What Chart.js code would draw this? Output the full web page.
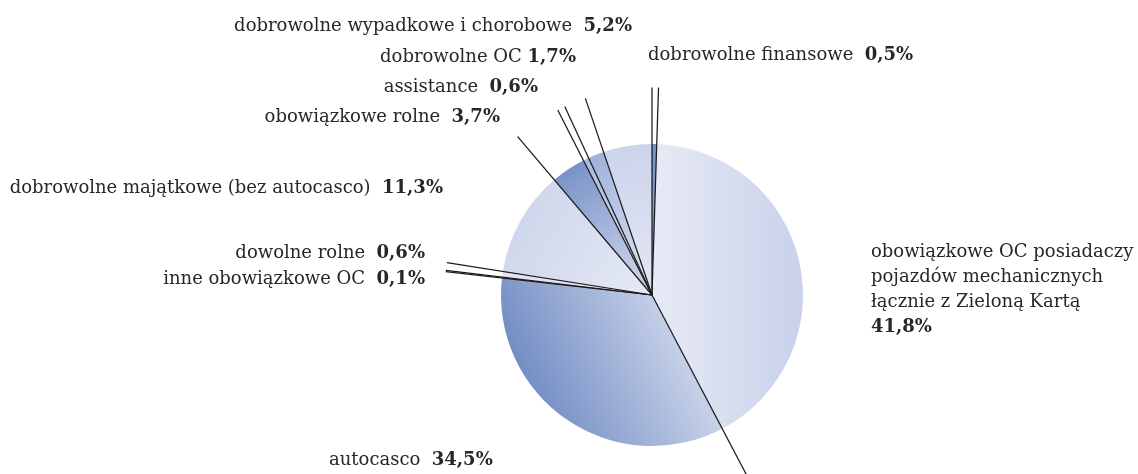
<!DOCTYPE html>
<html lang="pl">
<head>
  <meta charset="UTF-8">
  <title>Struktura składki - ubezpieczenia majątkowe</title>
  <script src="https://cdn.jsdelivr.net/npm/chart.js"></script>
  <style>
    html, body { margin: 0; padding: 0; background: #ffffff; }
    #wrap { width: 1138px; height: 474px; position: relative; }
  </style>
</head>
<body>
  <div id="wrap"><canvas id="wykres"></canvas></div>

  <script>
    // dane - udziały w składce (%)
    const categories = [
      ['dobrowolne finansowe'],
      ['obowiązkowe OC posiadaczy', 'pojazdów mechanicznych', 'łącznie z Zieloną Kartą'],
      ['autocasco'],
      ['inne obowiązkowe OC'],
      ['dowolne rolne'],
      ['dobrowolne majątkowe (bez autocasco)'],
      ['obowiązkowe rolne'],
      ['assistance'],
      ['dobrowolne OC'],
      ['dobrowolne wypadkowe i chorobowe']
    ];
    const shares = [0.5, 41.8, 34.5, 0.1, 0.6, 11.3, 3.7, 0.6, 1.7, 5.2];

    // układ etykiet (tylko pozycje w px)
    const labelPos = [
      { x: 648, y: 55, align: 'left' },
      { x: 871, y: 252, align: 'left', block: true },
      { x: 329, y: 460, align: 'left' },
      { x: 425, y: 279, align: 'right' },
      { x: 425, y: 253, align: 'right' },
      { x: 443, y: 188, align: 'right' },
      { x: 500, y: 117, align: 'right' },
      { x: 538, y: 87, align: 'right' },
      { x: 576, y: 57, align: 'right', gap: ' ' },
      { x: 632, y: 26, align: 'right' }
    ];

    // wypełnienia: [kąt od, r od, kolor, kąt do, r do, kolor]
    const fills = [
      [0, 0.2, '#8ea3d2', 0, 1, '#7690c6'],
      [270, 0.25, '#eff1f9', 90, 1, '#c9d1ea'],
      [80, 0.4, '#e2e7f4', 240, 1, '#748ec5'],
      [0, 0, '#9aabd7', 0, 1, '#8ea2d2'],
      [0, 0, '#e3e7f4', 0, 1, '#d3d9ee'],
      [120, 0.3, '#eceff8', 300, 1, '#d0d7ec'],
      [326, 0.2, '#c2cde8', 326, 1, '#7a93c8'],
      [334, 0.2, '#d3dbef', 334, 1, '#a9b8de'],
      [338, 0.2, '#d6ddf0', 338, 1, '#9fb1da'],
      [350, 0.2, '#dfe4f3', 350, 1, '#ccd4eb']
    ];

    const FONT = '"DejaVu Serif", "Liberation Serif", serif';
    const TEXT = '#2a2627';

    function pt(cx, cy, r, deg, f) {
      const a = (deg - 90) * Math.PI / 180;
      return [cx + Math.cos(a) * r * f, cy + Math.sin(a) * r * f];
    }

    function sliceFill(ctx) {
      const chart = ctx.chart;
      const area = chart.chartArea;
      const f = fills[ctx.dataIndex];
      if (!area) return f[5];
      const cx = (area.left + area.right) / 2;
      const cy = (area.top + area.bottom) / 2;
      const r = Math.min(area.right - area.left, area.bottom - area.top) / 2;
      const p0 = pt(cx, cy, r, f[0], f[1]);
      const p1 = pt(cx, cy, r, f[3], f[4]);
      const g = chart.ctx.createLinearGradient(p0[0], p0[1], p1[0], p1[1]);
      g.addColorStop(0, f[2]);
      g.addColorStop(1, f[5]);
      return g;
    }

    const fmt = v => v.toFixed(1).replace('.', ',') + '%';

    // linie podziału przedłużone poza koło + opisy
    const opisy = {
      id: 'opisy',
      afterDatasetsDraw(chart) {
        const c = chart.ctx;
        const arcs = chart.getDatasetMeta(0).data;
        c.save();
        c.strokeStyle = '#1e1a1b';
        c.lineWidth = 1.25;
        arcs.forEach(arc => {
          const R = arc.outerRadius * 1.375;
          c.beginPath();
          c.moveTo(arc.x, arc.y);
          c.lineTo(arc.x + Math.cos(arc.startAngle) * R, arc.y + Math.sin(arc.startAngle) * R);
          c.stroke();
        });

        c.fillStyle = TEXT;
        c.textBaseline = 'middle';
        const reg = '18px ' + FONT;
        const bold = 'bold 18px ' + FONT;
        categories.forEach((lines, i) => {
          const p = labelPos[i];
          const val = fmt(shares[i]);
          c.textAlign = 'left';
          if (p.block) {
            c.font = reg;
            lines.forEach((ln, k) => c.fillText(ln, p.x, p.y + k * 25));
            c.font = bold;
            c.fillText(val, p.x, p.y + lines.length * 25);
            return;
          }
          const name = lines.join(' ') + (p.gap || '  ');
          c.font = reg;
          const wn = c.measureText(name).width;
          c.font = bold;
          const wv = c.measureText(val).width;
          const x0 = p.align === 'right' ? p.x - wn - wv : p.x;
          c.font = reg;
          c.fillText(name, x0, p.y);
          c.font = bold;
          c.fillText(val, x0 + wn, p.y);
        });
        c.restore();
      }
    };

    new Chart(document.getElementById('wykres'), {
      type: 'pie',
      data: {
        labels: categories,
        datasets: [{
          data: shares,
          backgroundColor: sliceFill,
          borderWidth: 0
        }]
      },
      options: {
        responsive: true,
        maintainAspectRatio: false,
        animation: false,
        layout: { padding: { left: 501, right: 335, top: 144, bottom: 28 } },
        plugins: {
          legend: { display: false },
          tooltip: { enabled: false }
        }
      },
      plugins: [opisy]
    });
  </script>
</body>
</html>
